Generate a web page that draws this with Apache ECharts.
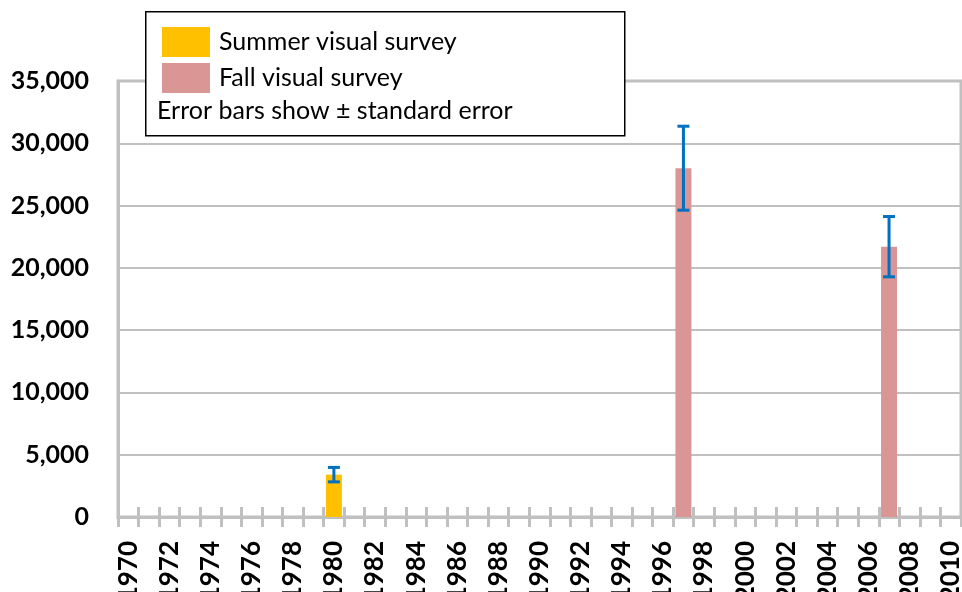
<!DOCTYPE html>
<html>
<head>
<meta charset="utf-8">
<script src="https://cdn.jsdelivr.net/npm/echarts@6/dist/echarts.min.js"></script>
<style>
  html, body { margin: 0; padding: 0; background: #fff; }
  #main { width: 962px; height: 592px; }
</style>
</head>
<body>
<div id="main"></div>
<script>
// years on the x axis
var years = ['1970','1971','1972','1973','1974','1975','1976','1977','1978','1979',
  '1980','1981','1982','1983','1984','1985','1986','1987','1988','1989',
  '1990','1991','1992','1993','1994','1995','1996','1997','1998','1999',
  '2000','2001','2002','2003','2004','2005','2006','2007','2008','2009','2010'];

// summer visual survey
var summerYears = ['1980'];
var summerValues = [3400];
var summerErrors = [580];

// fall visual survey
var fallYears = ['1997', '2007'];
var fallValues = [28000, 21700];
var fallErrors = [3370, 2420];

var FONT = 'Lato';

function toSeries(ys, vals) {
  return years.map(function (y) {
    var i = ys.indexOf(y);
    return i >= 0 ? vals[i] : '-';
  });
}

var errData = [];
summerYears.forEach(function (y, i) {
  errData.push([y, summerValues[i] - summerErrors[i], summerValues[i] + summerErrors[i]]);
});
fallYears.forEach(function (y, i) {
  errData.push([y, fallValues[i] - fallErrors[i], fallValues[i] + fallErrors[i]]);
});

var chart = echarts.init(document.getElementById('main'));

var option = {
  animation: false,
  textStyle: { fontFamily: FONT },
  grid: {
    left: 118, right: 1, top: 81, bottom: 75,
    outerBoundsMode: 'none',
    containLabel: false,
    show: true, borderColor: '#C0C0C0', borderWidth: 3, backgroundColor: 'transparent'
  },
  legend: {
    orient: 'vertical',
    left: 157, top: 22,
    itemWidth: 48, itemHeight: 30, itemGap: 6,
    icon: 'rect',
    data: ['Summer visual survey', 'Fall visual survey'],
    textStyle: { fontFamily: FONT, fontSize: 25, color: '#000', padding: [0, 0, 0, 4] },
    z: 10
  },
  graphic: [
    {
      type: 'rect', left: 145, top: 11, z: 5,
      shape: { width: 479, height: 124 },
      style: { fill: '#fff', stroke: '#000', lineWidth: 1.5 }
    },
    {
      type: 'text', left: 157, top: 98, z: 10,
      style: { text: 'Error bars show \u00b1 standard error', font: '25px ' + FONT, fill: '#000' }
    }
  ],
  xAxis: [
    {
      type: 'category',
      data: years,
      axisLine: { lineStyle: { color: '#C0C0C0', width: 3 } },
      axisTick: { show: true, interval: 0, length: 10, lineStyle: { color: '#C0C0C0', width: 3 } },
      axisLabel: {
        interval: 1, rotate: 90, margin: 24,
        fontFamily: FONT, fontWeight: 'bold', fontSize: 26, color: '#000'
      },
      splitLine: { show: false }
    },
    {
      type: 'category',
      data: years,
      position: 'bottom',
      axisLine: { show: false },
      axisTick: { show: true, inside: true, interval: 0, length: 10, lineStyle: { color: '#C0C0C0', width: 3 } },
      axisLabel: { show: false },
      splitLine: { show: false }
    }
  ],
  yAxis: {
    type: 'value',
    min: 0, max: 35000, interval: 5000,
    axisLine: { show: true, lineStyle: { color: '#C0C0C0', width: 3 } },
    axisTick: { show: false },
    axisLabel: {
      margin: 29,
      fontFamily: FONT, fontWeight: 'bold', fontSize: 25, color: '#000',
      formatter: function (v) { return v.toLocaleString('en-US'); }
    },
    splitLine: { lineStyle: { color: '#C0C0C0', width: 2 } }
  },
  series: [
    {
      name: 'Summer visual survey',
      type: 'bar',
      barWidth: 16,
      barGap: '-100%',
      itemStyle: { color: '#FFC000' },
      data: toSeries(summerYears, summerValues)
    },
    {
      name: 'Fall visual survey',
      type: 'bar',
      barWidth: 16,
      barGap: '-100%',
      itemStyle: { color: '#DA9694' },
      data: toSeries(fallYears, fallValues)
    },
    {
      name: 'error',
      type: 'custom',
      z: 5,
      data: errData,
      renderItem: function (params, api) {
        var x = api.value(0);
        var hi = api.coord([x, api.value(2)]);
        var lo = api.coord([x, api.value(1)]);
        var half = 6;
        var st = { stroke: '#0070C0', lineWidth: 3 };
        return {
          type: 'group',
          children: [
            { type: 'line', shape: { x1: hi[0], y1: hi[1], x2: lo[0], y2: lo[1] }, style: st },
            { type: 'line', shape: { x1: hi[0] - half, y1: hi[1], x2: hi[0] + half, y2: hi[1] }, style: st },
            { type: 'line', shape: { x1: lo[0] - half, y1: lo[1], x2: lo[0] + half, y2: lo[1] }, style: st }
          ]
        };
      }
    }
  ]
};

chart.setOption(option);
</script>
</body>
</html>
